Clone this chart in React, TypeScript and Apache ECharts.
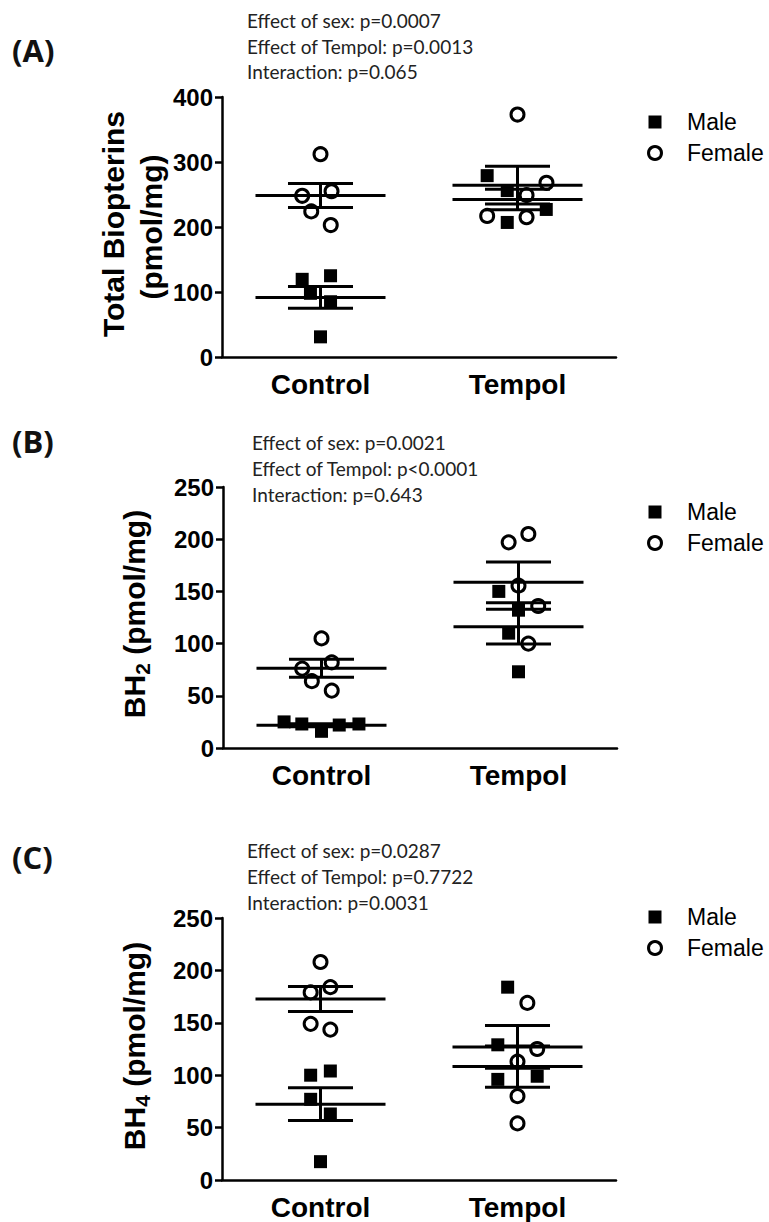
import React, { useEffect, useRef } from "react";
import * as echarts from "echarts";

const categories = ["Control", "Tempol"];

// Panel A: Total Biopterins (pmol/mg)
const aMaleControl = [119.5, 125, 98, 85, 31];
const aMaleControlJitter = [-0.093, 0.051, -0.051, 0.051, 0];
const aFemaleControl = [312, 248, 255, 224, 203];
const aFemaleControlJitter = [0, -0.093, 0.056, -0.047, 0.052];
const aMaleTempol = [279, 256, 227, 207];
const aMaleTempolJitter = [-0.154, -0.052, 0.146, -0.052];
const aFemaleTempol = [373, 268, 249, 217, 215];
const aFemaleTempolJitter = [0, 0.147, 0.046, -0.154, 0.046];
const aTicks = { min: 0, max: 400, interval: 100 };
const aStats = ["Effect of sex: p=0.0007", "Effect of Tempol: p=0.0013", "Interaction: p=0.065"];

// Panel B: BH2 (pmol/mg)
const bMaleControl = [25, 23, 16, 22, 23];
const bMaleControlJitter = [-0.19, -0.1, 0, 0.09, 0.19];
const bFemaleControl = [105, 76, 82, 64, 55];
const bFemaleControlJitter = [0, -0.098, 0.052, -0.049, 0.052];
const bMaleTempol = [150, 132, 110, 73];
const bMaleTempolJitter = [-0.1, 0, -0.05, 0];
const bFemaleTempol = [205, 197, 155.5, 136, 100];
const bFemaleTempolJitter = [0.05, -0.05, 0, 0.1, 0.05];
const bTicks = { min: 0, max: 250, interval: 50 };
const bStats = ["Effect of sex: p=0.0021", "Effect of Tempol: p<0.0001", "Interaction: p=0.643"];

// Panel C: BH4 (pmol/mg)
const cMaleControl = [100, 104, 77, 63, 17.5];
const cMaleControlJitter = [-0.05, 0.05, -0.05, 0.05, 0];
const cFemaleControl = [208, 179, 184, 149, 143.5];
const cFemaleControlJitter = [0, -0.05, 0.05, -0.05, 0.05];
const cMaleTempol = [184, 129, 96, 99];
const cMaleTempolJitter = [-0.05, -0.1, -0.1, 0.1];
const cFemaleTempol = [169, 125, 113, 80, 54];
const cFemaleTempolJitter = [0.05, 0.1, 0, 0, 0];
const cTicks = { min: 0, max: 250, interval: 50 };
const cStats = ["Effect of sex: p=0.0287", "Effect of Tempol: p=0.7722", "Interaction: p=0.0031"];

const legendNames = ["Male", "Female"];
const panelLabels = ["(A)", "(B)", "(C)"];

const mean = (a: number[]) => a.reduce((s, v) => s + v, 0) / a.length;
const sem = (a: number[]) => {
  const m = mean(a);
  const v = a.reduce((s, x) => s + (x - m) * (x - m), 0) / (a.length - 1);
  return Math.sqrt(v) / Math.sqrt(a.length);
};

type Panel = {
  maleC: number[]; maleCJ: number[]; femC: number[]; femCJ: number[];
  maleT: number[]; maleTJ: number[]; femT: number[]; femTJ: number[];
  ticks: { min: number; max: number; interval: number };
  grid: { left: number; top: number; width: number; height: number };
};

const panels: Panel[] = [
  { maleC: aMaleControl, maleCJ: aMaleControlJitter, femC: aFemaleControl, femCJ: aFemaleControlJitter,
    maleT: aMaleTempol, maleTJ: aMaleTempolJitter, femT: aFemaleTempol, femTJ: aFemaleTempolJitter,
    ticks: aTicks, grid: { left: 222, top: 97, width: 394, height: 260 } },
  { maleC: bMaleControl, maleCJ: bMaleControlJitter, femC: bFemaleControl, femCJ: bFemaleControlJitter,
    maleT: bMaleTempol, maleTJ: bMaleTempolJitter, femT: bFemaleTempol, femTJ: bFemaleTempolJitter,
    ticks: bTicks, grid: { left: 223, top: 487, width: 394, height: 261 } },
  { maleC: cMaleControl, maleCJ: cMaleControlJitter, femC: cFemaleControl, femCJ: cFemaleControlJitter,
    maleT: cMaleTempol, maleTJ: cMaleTempolJitter, femT: cFemaleTempol, femTJ: cFemaleTempolJitter,
    ticks: cTicks, grid: { left: 222, top: 918, width: 394, height: 262 } },
];

const AXIS_FONT = "'Liberation Sans', Arial, sans-serif";
const NOTE_FONT = "Lato, 'Open Sans', sans-serif";

export default function App() {
  const ref = useRef<HTMLDivElement>(null);
  useEffect(() => {
    document.body.style.margin = "0";
    if (!ref.current) return;
    const chart = echarts.init(ref.current, undefined, { renderer: "svg" });

    const grids: any[] = [];
    const xAxes: any[] = [];
    const yAxes: any[] = [];
    const series: any[] = [];

    panels.forEach((p, i) => {
      grids.push({ ...p.grid, containLabel: false });
      xAxes.push({
        type: "category", gridIndex: i, data: categories, boundaryGap: true,
        axisLine: { onZero: false, lineStyle: { color: "#000", width: 2.5 } },
        axisTick: { alignWithLabel: true, length: 7, lineStyle: { color: "#000", width: 2.5 } },
        axisLabel: { color: "#000", fontFamily: AXIS_FONT, fontWeight: "bold", fontSize: 28, margin: 13 },
        splitLine: { show: false },
      });
      xAxes.push({ type: "value", gridIndex: i, min: -0.5, max: 1.5, show: false });
      yAxes.push({
        type: "value", gridIndex: i, min: p.ticks.min, max: p.ticks.max, interval: p.ticks.interval,
        axisLine: { show: true, onZero: false, lineStyle: { color: "#000", width: 2.5 } },
        axisTick: { show: true, length: 7, lineStyle: { color: "#000", width: 2.5 } },
        axisLabel: { color: "#000", fontFamily: AXIS_FONT, fontWeight: "bold", fontSize: 24, margin: 9 },
        splitLine: { show: false },
      });
      const xIdx = i * 2 + 1;
      const pts = (vals: number[], jit: number[], g: number) => vals.map((v, k) => [g + jit[k], v]);
      series.push({
        name: legendNames[0], type: "scatter", xAxisIndex: xIdx, yAxisIndex: i,
        symbol: "rect", symbolSize: 13, itemStyle: { color: "#000", opacity: 1 }, z: 2,
        emphasis: { disabled: true },
        data: [...pts(p.maleC, p.maleCJ, 0), ...pts(p.maleT, p.maleTJ, 1)],
      });
      series.push({
        name: legendNames[1], type: "scatter", xAxisIndex: xIdx, yAxisIndex: i,
        symbol: "circle", symbolSize: 13,
        itemStyle: { color: "#fff", borderColor: "#000", borderWidth: 3, opacity: 1 }, z: 2,
        emphasis: { disabled: true },
        data: [...pts(p.femC, p.femCJ, 0), ...pts(p.femT, p.femTJ, 1)],
      });
      const groups = [[0, p.maleC], [0, p.femC], [1, p.maleT], [1, p.femT]] as [number, number[]][];
      series.push({
        type: "custom", xAxisIndex: xIdx, yAxisIndex: i, z: 3, silent: true,
        dimensions: ["x", "mean", "sem"],
        data: groups.map(([g, vals]) => [g, mean(vals), sem(vals)]),
        renderItem: (params: any, api: any) => {
          const x = api.value(0), m = api.value(1), s = api.value(2);
          const style = { stroke: "#000", lineWidth: 3, fill: "none" };
          const a = api.coord([x - 0.33, m]), b = api.coord([x + 0.33, m]);
          const hi = api.coord([x, m + s]), lo = api.coord([x, m - s]);
          const hl = api.coord([x - 0.165, m + s]), hr = api.coord([x + 0.165, m + s]);
          const ll = api.coord([x - 0.165, m - s]), lr = api.coord([x + 0.165, m - s]);
          return {
            type: "group",
            children: [
              { type: "line", shape: { x1: a[0], y1: a[1], x2: b[0], y2: b[1] }, style },
              { type: "line", shape: { x1: hi[0], y1: hi[1], x2: lo[0], y2: lo[1] }, style },
              { type: "line", shape: { x1: hl[0], y1: hl[1], x2: hr[0], y2: hr[1] }, style },
              { type: "line", shape: { x1: ll[0], y1: ll[1], x2: lr[0], y2: lr[1] }, style },
            ],
          };
        },
      });
    });

    const graphics: any[] = [];
    const labelY = [50, 441, 857];
    const statsX = [247, 252, 247];
    const statsY = [[20, 46, 71], [442, 468, 494], [850, 876, 902]];
    const stats = [aStats, bStats, cStats];
    const legendY = [[122, 153], [512, 543], [917, 948]];
    panelLabels.forEach((t, i) => {
      graphics.push({
        type: "text", x: 12, y: labelY[i],
        style: { text: t, fill: "#111", font: `bold 31px 'Open Sans', sans-serif`, verticalAlign: "middle", align: "left" },
      });
      stats[i].forEach((s, k) => {
        graphics.push({
          type: "text", x: statsX[i], y: statsY[i][k],
          style: { text: s, fill: "#222", font: `19px ${NOTE_FONT}`, verticalAlign: "middle", align: "left" },
        });
      });
      const [my, fy] = legendY[i];
      graphics.push({ type: "rect", shape: { x: 648.5, y: my - 6.5, width: 13, height: 13 }, style: { fill: "#000" } });
      graphics.push({ type: "circle", shape: { cx: 655, cy: fy, r: 6.5 }, style: { fill: "#fff", stroke: "#000", lineWidth: 3 } });
      graphics.push({ type: "text", x: 687, y: my, style: { text: legendNames[0], fill: "#000", font: `23px ${AXIS_FONT}`, verticalAlign: "middle" } });
      graphics.push({ type: "text", x: 687, y: fy, style: { text: legendNames[1], fill: "#000", font: `23px ${AXIS_FONT}`, verticalAlign: "middle" } });
    });

    // y-axis titles
    graphics.push({
      type: "text", x: 113, y: 224, rotation: Math.PI / 2,
      style: { text: "Total Biopterins", fill: "#000", font: `bold 30px ${AXIS_FONT}`, align: "center", verticalAlign: "middle" },
    });
    graphics.push({
      type: "text", x: 151, y: 227, rotation: Math.PI / 2,
      style: { text: "(pmol/mg)", fill: "#000", font: `bold 30px ${AXIS_FONT}`, align: "center", verticalAlign: "middle" },
    });
    const richT = (sub: string) => ({
      text: `{b|BH}{s|${sub}}{b| (pmol/mg)}`,
      align: "center", verticalAlign: "middle",
      rich: {
        b: { fontFamily: AXIS_FONT, fontWeight: "bold", fontSize: 30, lineHeight: 38, fill: "#000", color: "#000" },
        s: { fontFamily: AXIS_FONT, fontWeight: "bold", fontSize: 21, lineHeight: 38, verticalAlign: "bottom", fill: "#000", color: "#000" },
      },
    });
    graphics.push({ type: "text", x: 134, y: 614, rotation: Math.PI / 2, style: richT("2") });
    graphics.push({ type: "text", x: 134, y: 1046, rotation: Math.PI / 2, style: richT("4") });

    chart.setOption({
      animation: false,
      backgroundColor: "#fff",
      grid: grids,
      xAxis: xAxes,
      yAxis: yAxes,
      series,
      graphic: graphics,
    });
    return () => chart.dispose();
  }, []);
  return <div ref={ref} style={{ width: 769, height: 1222 }} />;
}
